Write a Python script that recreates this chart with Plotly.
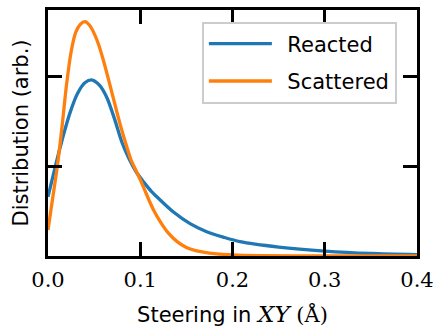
import plotly.graph_objects as go

reacted_x = [0, 0.008, 0.016, 0.024, 0.032, 0.040, 0.048, 0.056, 0.064, 0.072, 0.080, 0.088, 0.096,
             0.104, 0.112, 0.120, 0.136, 0.154, 0.172, 0.190, 0.208, 0.25, 0.3, 0.35, 0.4]
reacted_y = [0.66, 1.00, 1.32, 1.60, 1.81, 1.93, 1.96, 1.90, 1.76, 1.53, 1.27, 1.08, 0.93,
             0.82, 0.72, 0.64, 0.49, 0.36, 0.27, 0.21, 0.16, 0.10, 0.055, 0.028, 0.015]

scattered_x = [0, 0.005, 0.010, 0.015, 0.020, 0.025, 0.030, 0.035, 0.040, 0.045, 0.050, 0.055, 0.060,
               0.065, 0.070, 0.075, 0.080, 0.085, 0.090, 0.095, 0.100, 0.105, 0.110, 0.115, 0.120,
               0.125, 0.130, 0.140, 0.150, 0.160, 0.170, 0.180, 0.200, 0.230, 0.300, 0.400]
scattered_y = [0.29, 0.64, 0.99, 1.42, 1.90, 2.27, 2.49, 2.58, 2.61, 2.57, 2.48, 2.35, 2.18,
               1.99, 1.79, 1.59, 1.40, 1.23, 1.07, 0.96, 0.85, 0.73, 0.61, 0.50, 0.41,
               0.33, 0.26, 0.16, 0.095, 0.06, 0.04, 0.027, 0.013, 0.005, 0.0, 0.0]

x_ticks = [0.0, 0.1, 0.2, 0.3, 0.4]
x_tick_labels = ["0.0", "0.1", "0.2", "0.3", "0.4"]

fig = go.Figure()
fig.add_trace(go.Scatter(x=reacted_x, y=reacted_y, mode="lines", name="\u2002Reacted", legendgroup="r",
                         line=dict(color="#1f77b4", width=3.3, shape="spline", smoothing=0.8)))
fig.add_trace(go.Scatter(x=scattered_x, y=scattered_y, mode="lines", name="\u2002Scattered", legendgroup="s",
                         line=dict(color="#ff7f0e", width=3.3, shape="spline", smoothing=0.8)))

axis_common = dict(showline=True, linecolor="black", linewidth=2.5, mirror="allticks",
                   ticks="inside", ticklen=14, tickwidth=2.5, tickcolor="black",
                   showgrid=False, zeroline=False, automargin=False)

xtitle = ("Steering in <span style='font-family:DejaVu Serif;font-size:23px'><i>XY</i></span> "
          "<span style='font-family:DejaVu Serif'>(Å)</span>")

fig.update_xaxes(range=[0, 0.4], tickvals=x_ticks, ticktext=x_tick_labels,
                 tickfont=dict(family="DejaVu Serif", size=21, color="black"),
                 ticklabelstandoff=3,
                 title=dict(text=xtitle,
                            font=dict(family="DejaVu Sans", size=21, color="black"),
                            standoff=20),
                 **axis_common)
fig.update_yaxes(range=[0, 2.74], dtick=1, tick0=0, showticklabels=False,
                 title=dict(text="Distribution (arb.)",
                            font=dict(family="DejaVu Sans", size=21, color="black"),
                            standoff=11),
                 **axis_common)

fig.update_layout(
    width=434, height=327,
    margin=dict(l=48, r=17, t=10, b=71, autoexpand=False),
    plot_bgcolor="white", paper_bgcolor="white",
    showlegend=True,
    legend=dict(x=0.417, y=0.953, xanchor="left", yanchor="top",
                bgcolor="rgba(255,255,255,0.8)", bordercolor="#cccccc", borderwidth=2,
                font=dict(family="DejaVu Sans", size=21, color="black"),
                itemwidth=63, tracegroupgap=7),
)

fig.write_html("out.html")
